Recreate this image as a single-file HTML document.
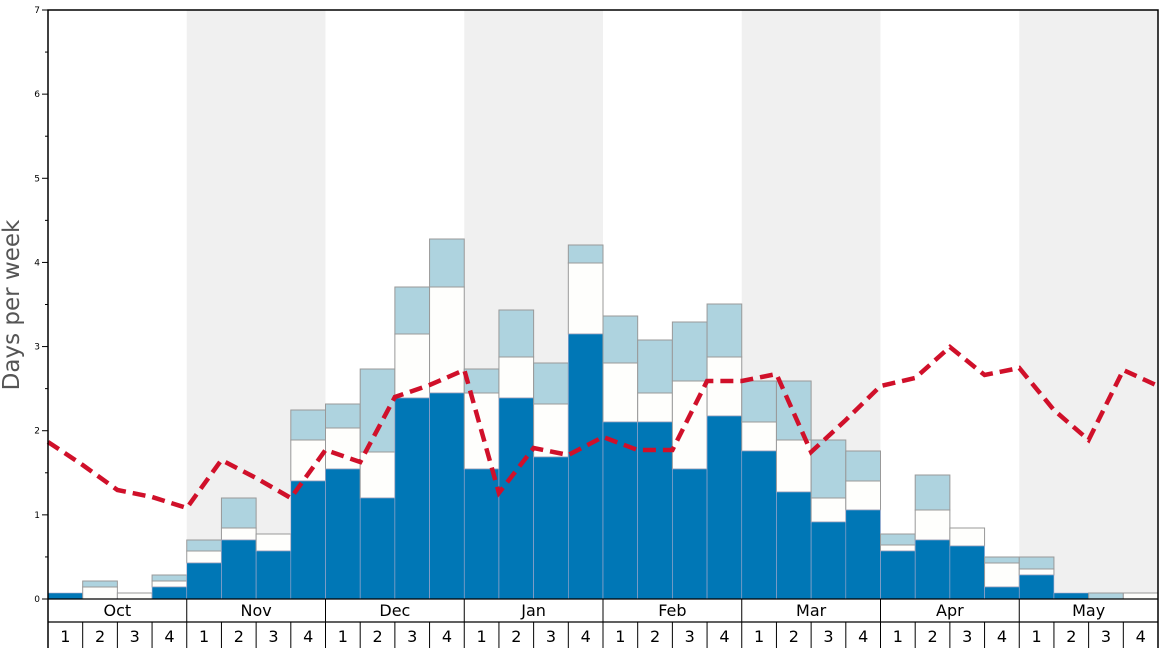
<!DOCTYPE html>
<html><head><meta charset="utf-8"><style>
html,body{margin:0;padding:0;background:#fff;}
svg{display:block;font-family:"DejaVu Sans","Liberation Sans",sans-serif;}
</style></head><body>
<svg id="c" width="1168" height="648" viewBox="0 0 1168 648" xmlns="http://www.w3.org/2000/svg">
<rect x="0" y="0" width="1168" height="648" fill="#fff"/>
<g id="bands"></g>
<g id="bars"></g>
<g id="line"></g>
<g id="axes"></g>
<text transform="translate(19,305) rotate(-90)" text-anchor="middle" font-size="23" fill="#555">Days per week</text>
</svg>
<script>
const NS="http://www.w3.org/2000/svg";
function el(p,t,a,txt){const e=document.createElementNS(NS,t);for(const k in a)e.setAttribute(k,a[k]);if(txt!==undefined)e.textContent=txt;document.getElementById(p).appendChild(e);return e;}
const L=48,R=1158,T=10,B=599,W=(R-L)/32;
const months=["Oct","Nov","Dec","Jan","Feb","Mar","Apr","May"];
for(let m=1;m<8;m+=2)el("bands","rect",{x:L+m*4*W,y:T,width:4*W,height:B-T,fill:"#f0f0f0"});
const d=[[593,593,593],[599,587,581],[599,593,593],[587,581,575],
[563,551,540],[540,528,498],[551,534,534],[481,440,410],
[469,428,404],[498,452,369],[398,334,287],[393,287,239],
[469,393,369],[398,357,310],[457,404,363],[334,263,245],
[422,363,316],[422,393,340],[469,381,322],[416,357,304],
[451,422,381],[492,440,381],[522,498,440],[510,481,451],
[551,545,534],[540,510,475],[546,528,528],[587,563,557],
[575,569,557],[593,593,593],[599,599,593],[599,593,593]];
d.forEach((v,i)=>{const x=L+i*W;
 if(v[2]<v[1])el("bars","rect",{x:x,y:v[2],width:W,height:v[1]-v[2],fill:"#aed3df",stroke:"#999","stroke-width":1});
 if(v[1]<v[0])el("bars","rect",{x:x,y:v[1],width:W,height:v[0]-v[1],fill:"#fefefc",stroke:"#999","stroke-width":1});
 if(v[0]<B)el("bars","rect",{x:x,y:v[0],width:W,height:B-v[0],fill:"#0077b6",stroke:"#aac","stroke-width":0.6});
});
const ly=[442,465,490,497,508,460,478,498,450,462,397,385,370,493,448,455,437,450,450,381,381,374,452,420,386,378,347,375,368,410,440,370,386];
el("line","polyline",{points:ly.map((y,i)=>(L+i*W).toFixed(1)+","+y).join(" "),fill:"none",stroke:"#d0102a","stroke-width":4.5,"stroke-dasharray":"13,7"});
el("axes","rect",{x:L,y:T,width:R-L,height:648-T+2,fill:"none",stroke:"#000","stroke-width":1.5});
el("axes","line",{x1:L,y1:B,x2:R,y2:B,stroke:"#000","stroke-width":1.2});
el("axes","line",{x1:L,y1:622,x2:R,y2:622,stroke:"#000","stroke-width":1.2});
const u=(B-T)/7;
for(let k=0;k<=14;k++){const y=B-k*u/2;el("axes","line",{x1:L-(k%2?3:6),y1:y,x2:L,y2:y,stroke:"#000","stroke-width":1});
 if(k%2==0)el("axes","text",{x:L-8,y:y+3,"font-size":9,"text-anchor":"end",fill:"#000"},String(k/2));}
for(let m=0;m<8;m++){const x=L+m*4*W;if(m>0)el("axes","line",{x1:x,y1:B,x2:x,y2:648,stroke:"#000","stroke-width":1});
 el("axes","text",{x:x+2*W,y:616,"font-size":16,"text-anchor":"middle",fill:"#000"},months[m]);
 for(let w=0;w<4;w++){const wx=x+w*W;if(w>0)el("axes","line",{x1:wx,y1:622,x2:wx,y2:648,stroke:"#000","stroke-width":1});
  el("axes","text",{x:wx+W/2,y:642,"font-size":16,"text-anchor":"middle",fill:"#000"},String(w+1));}}
</script>
</body></html>
